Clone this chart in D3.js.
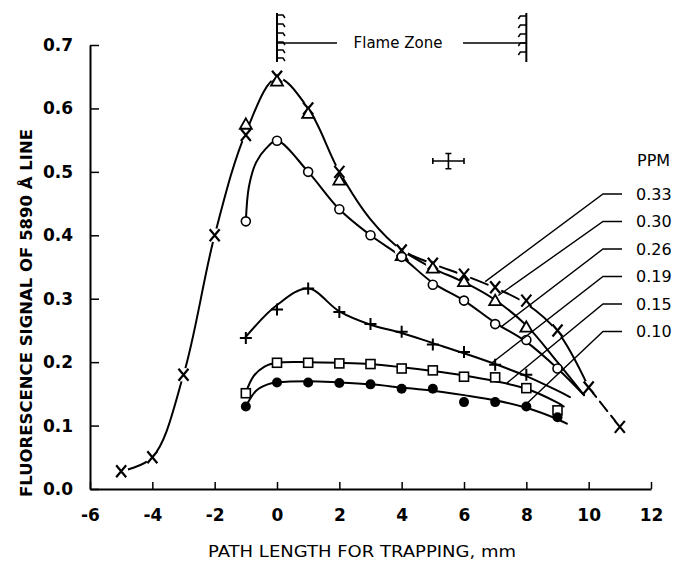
<!DOCTYPE html>
<html>
<head>
<meta charset="utf-8">
<script src="https://cdn.jsdelivr.net/npm/d3@7"></script>
<style>
  body { margin: 0; background: #fff; }
  svg { display: block; background: #fff; }
  text { font-family: "DejaVu Sans", sans-serif; fill: #000; }
</style>
</head>
<body>
<svg id="chart" width="677" height="562"></svg>
<script>
// ---- tick values ----
const xTicks = [-6, -4, -2, 0, 2, 4, 6, 8, 10, 12];
const yTicks = [0, 0.1, 0.2, 0.3, 0.4, 0.5, 0.6, 0.7];

// ---- concentration labels (PPM) ----
const ppmLabels = ["0.33", "0.30", "0.26", "0.19", "0.15", "0.10"];

// ---- measured points, path length (mm) vs fluorescence signal ----
const x033 = [-5, -4, -3, -2, -1, 0, 1, 2, 4, 5, 6, 7, 8, 9, 10, 11];
const y033 = [0.028, 0.05, 0.18, 0.40, 0.558, 0.65, 0.60, 0.50, 0.376, 0.355, 0.338, 0.318, 0.297, 0.25, 0.16, 0.098];

const x030 = [-1, 0, 1, 2, 4, 5, 6, 7, 8];
const y030 = [0.575, 0.643, 0.592, 0.487, 0.368, 0.348, 0.327, 0.297, 0.255];

const x026 = [-1, 0, 1, 2, 3, 4, 5, 6, 7, 8, 9];
const y026 = [0.422, 0.549, 0.50, 0.441, 0.40, 0.366, 0.322, 0.297, 0.26, 0.235, 0.19];

const x019 = [-1, 0, 1, 2, 3, 4, 5, 6, 7, 8];
const y019 = [0.238, 0.283, 0.316, 0.279, 0.26, 0.248, 0.228, 0.216, 0.196, 0.18];

const x015 = [-1, 0, 1, 2, 3, 4, 5, 6, 7, 8, 9];
const y015 = [0.151, 0.199, 0.199, 0.198, 0.197, 0.19, 0.187, 0.177, 0.176, 0.159, 0.124];

const x010 = [-1, 0, 1, 2, 3, 4, 5, 6, 7, 8, 9];
const y010 = [0.13, 0.168, 0.168, 0.167, 0.165, 0.158, 0.158, 0.137, 0.137, 0.13, 0.113];

// ---- hand-fitted smooth curves (knots) ----
const fit033X = [-5, -4, -3, -2, -1, 0, 1, 2, 3, 4, 5, 6, 7, 8, 9, 10];
const fit033Y = [0.028, 0.05, 0.18, 0.40, 0.562, 0.648, 0.60, 0.50, 0.425, 0.377, 0.355, 0.337, 0.317, 0.292, 0.248, 0.16];
const tail033X = [10, 11];
const tail033Y = [0.16, 0.098];

const fit030X = [4, 5, 6, 7, 8, 9, 9.85];
const fit030Y = [0.376, 0.348, 0.326, 0.298, 0.258, 0.2, 0.148];

const fit026X = [-1, -0.9, -0.67, -0.35, 0, 1, 2, 3, 4, 5, 6, 7, 8, 9, 9.85];
const fit026Y = [0.422, 0.477, 0.515, 0.537, 0.549, 0.50, 0.441, 0.40, 0.366, 0.325, 0.297, 0.262, 0.232, 0.19, 0.148];

const fit019X = [-1, 0, 1, 2, 3, 4, 5, 6, 7, 8, 9, 9.4];
const fit019Y = [0.24, 0.29, 0.316, 0.28, 0.259, 0.246, 0.23, 0.214, 0.197, 0.178, 0.155, 0.145];

const fit015X = [-1, -0.75, -0.4, 0, 1, 2, 3, 4, 5, 6, 7, 8, 9, 9.2];
const fit015Y = [0.152, 0.178, 0.193, 0.199, 0.2, 0.199, 0.197, 0.192, 0.186, 0.179, 0.17, 0.158, 0.136, 0.13];

const fit010X = [-1, -0.67, -0.3, 0, 1, 2, 3, 4, 5, 6, 7, 8, 9, 9.3];
const fit010Y = [0.13, 0.155, 0.165, 0.168, 0.17, 0.168, 0.165, 0.16, 0.155, 0.148, 0.14, 0.128, 0.11, 0.103];

// ---- leader-line anchor points on each curve ----
const leadX = [6.68, 7.1, 7.2, 6.9, 7.35, 8.0];
const leadY = [0.327, 0.305, 0.256, 0.199, 0.166, 0.134];

// ---- representative error bar ----
const errX = 5.5, errY = 0.517, errDx = 0.5, errDy = 0.012;

// ---- flame zone boundaries (mm) ----
const flameStart = 0, flameEnd = 8;

const svg = d3.select("#chart");
const x = d3.scaleLinear().domain([-6, 12]).range([90, 651]);
const y = d3.scaleLinear().domain([0, 0.7]).range([489, 45]);

// ---- axes ----
const gx = svg.append("g")
  .attr("transform", `translate(0,${y(0)})`)
  .call(d3.axisBottom(x).tickValues(xTicks).tickSize(-7).tickSizeOuter(0)
    .tickPadding(20).tickFormat(d => String(d)));
gx.select(".domain").attr("stroke-width", 2);
gx.selectAll(".tick line").attr("stroke-width", 1.5);
gx.selectAll(".tick text").style("font-family", '"DejaVu Sans", sans-serif')
  .attr("font-size", 17).attr("font-weight", "bold");

const gy = svg.append("g")
  .attr("transform", `translate(${x(-6)},0)`)
  .call(d3.axisLeft(y).tickValues(yTicks).tickSize(-9).tickSizeOuter(0)
    .tickPadding(17).tickFormat(d3.format(".1f")));
gy.select(".domain").attr("stroke-width", 2);
gy.selectAll(".tick line").attr("stroke-width", 1.5);
gy.selectAll(".tick text").style("font-family", '"DejaVu Sans", sans-serif')
  .attr("font-size", 17).attr("font-weight", "bold");

svg.append("text")
  .attr("x", 362).attr("y", 557)
  .attr("text-anchor", "middle")
  .attr("font-size", 15)
  .attr("textLength", 308).attr("lengthAdjust", "spacingAndGlyphs")
  .text("PATH LENGTH FOR TRAPPING, mm");

svg.append("text")
  .attr("transform", "translate(32,313) rotate(-90)")
  .attr("text-anchor", "middle")
  .attr("font-size", 15).attr("font-weight", "bold")
  .attr("textLength", 368).attr("lengthAdjust", "spacingAndGlyphs")
  .text("FLUORESCENCE SIGNAL OF 5890 Å LINE");

// ---- fitted curves ----
const zip = (xs, ys) => xs.map((v, i) => [v, ys[i]]);
const line = d3.line().x(d => x(d[0])).y(d => y(d[1])).curve(d3.curveCatmullRom.alpha(0.5));

const curves = svg.append("g").attr("fill", "none").attr("stroke", "#000")
  .attr("stroke-width", 2).attr("stroke-linecap", "round");
[[fit033X, fit033Y], [fit030X, fit030Y], [fit026X, fit026Y],
 [fit019X, fit019Y], [fit015X, fit015Y], [fit010X, fit010Y]].forEach(([xs, ys]) => {
  curves.append("path").attr("d", line(zip(xs, ys)));
});
curves.append("path").attr("d", d3.line().x(d => x(d[0])).y(d => y(d[1]))(zip(tail033X, tail033Y)))
  .attr("stroke-dasharray", "12 6");

// ---- markers ----
const pts033 = zip(x033, y033);
svg.append("g").selectAll("circle").data(pts033).join("circle")
  .attr("cx", d => x(d[0])).attr("cy", d => y(d[1])).attr("r", 7).attr("fill", "#fff");
svg.append("g").attr("stroke", "#000").attr("stroke-width", 2.2).attr("fill", "none")
  .selectAll("path").data(pts033).join("path")
  .attr("transform", d => `translate(${x(d[0])},${y(d[1])})`)
  .attr("d", "M-5,-6L5,6M5,-6L-5,6");

svg.append("g").attr("stroke", "#000").attr("stroke-width", 1.8).attr("fill", "#fff")
  .selectAll("path").data(zip(x030, y030)).join("path")
  .attr("transform", d => `translate(${x(d[0])},${y(d[1]) + 1})`)
  .attr("d", d3.symbol(d3.symbolTriangle, 62)());

svg.append("g").attr("stroke", "#000").attr("stroke-width", 1.6).attr("fill", "#fff")
  .selectAll("circle").data(zip(x026, y026)).join("circle")
  .attr("cx", d => x(d[0])).attr("cy", d => y(d[1])).attr("r", 4.5);

svg.append("g").attr("stroke", "#000").attr("stroke-width", 2).attr("fill", "none")
  .selectAll("path").data(zip(x019, y019)).join("path")
  .attr("transform", d => `translate(${x(d[0])},${y(d[1])})`)
  .attr("d", "M-6,0H6M0,-6V6");

svg.append("g").attr("stroke", "#000").attr("stroke-width", 1.6).attr("fill", "#fff")
  .selectAll("rect").data(zip(x015, y015)).join("rect")
  .attr("x", d => x(d[0]) - 4.5).attr("y", d => y(d[1]) - 4.5)
  .attr("width", 9).attr("height", 9);

svg.append("g").attr("fill", "#000")
  .selectAll("circle").data(zip(x010, y010)).join("circle")
  .attr("cx", d => x(d[0])).attr("cy", d => y(d[1])).attr("r", 5);

// ---- PPM labels with leader lines ----
const labelY0 = 194, labelStep = 27.5;
svg.append("text").attr("x", 637).attr("y", 160).attr("dy", "0.35em")
  .attr("font-size", 16).text("PPM");
const leaders = svg.append("g");
ppmLabels.forEach((lab, i) => {
  const ly = labelY0 + i * labelStep;
  leaders.append("path")
    .attr("d", `M${x(leadX[i])},${y(leadY[i])}L603,${ly}H622`)
    .attr("fill", "none").attr("stroke", "#000").attr("stroke-width", 1.4);
  leaders.append("text").attr("x", 636).attr("y", ly).attr("dy", "0.35em")
    .attr("font-size", 16).text(lab);
});

// ---- error bar ----
const eb = svg.append("g").attr("stroke", "#000").attr("stroke-width", 1.6).attr("fill", "none");
eb.append("path").attr("d",
  `M${x(errX - errDx)},${y(errY)}H${x(errX + errDx)}` +
  `M${x(errX - errDx)},${y(errY) - 3}V${y(errY) + 3}` +
  `M${x(errX + errDx)},${y(errY) - 3}V${y(errY) + 3}` +
  `M${x(errX)},${y(errY + errDy)}V${y(errY - errDy)}` +
  `M${x(errX) - 3},${y(errY + errDy)}H${x(errX) + 3}` +
  `M${x(errX) - 3},${y(errY - errDy)}H${x(errX) + 3}`);

// ---- flame zone marker ----
const fz = svg.append("g").attr("stroke", "#000").attr("fill", "none");
const fx0 = x(flameStart), fx1 = x(flameEnd);
const fTop = 13, fBot = 62, fMid = 43;
fz.append("path").attr("d", `M${fx0},${fTop}V${fBot}M${fx1},${fTop}V${fBot}`).attr("stroke-width", 2);
let hatch = "";
[17, 26, 35, 44, 52, 60].forEach(h => { hatch += `M${fx0},${h - 2}h6l2,3`; });
[16, 25, 34, 43, 52].forEach(h => { hatch += `M${fx1},${h}h-6l-2,3`; });
fz.append("path").attr("d", hatch).attr("stroke-width", 1.5);
fz.append("path").attr("d", `M${fx0},${fMid}H337M463,${fMid}H${fx1}`).attr("stroke-width", 1.5);
svg.append("text").attr("x", 398).attr("y", fMid).attr("dy", "0.35em")
  .attr("text-anchor", "middle").attr("font-size", 15).text("Flame Zone");
</script>
</body>
</html>
